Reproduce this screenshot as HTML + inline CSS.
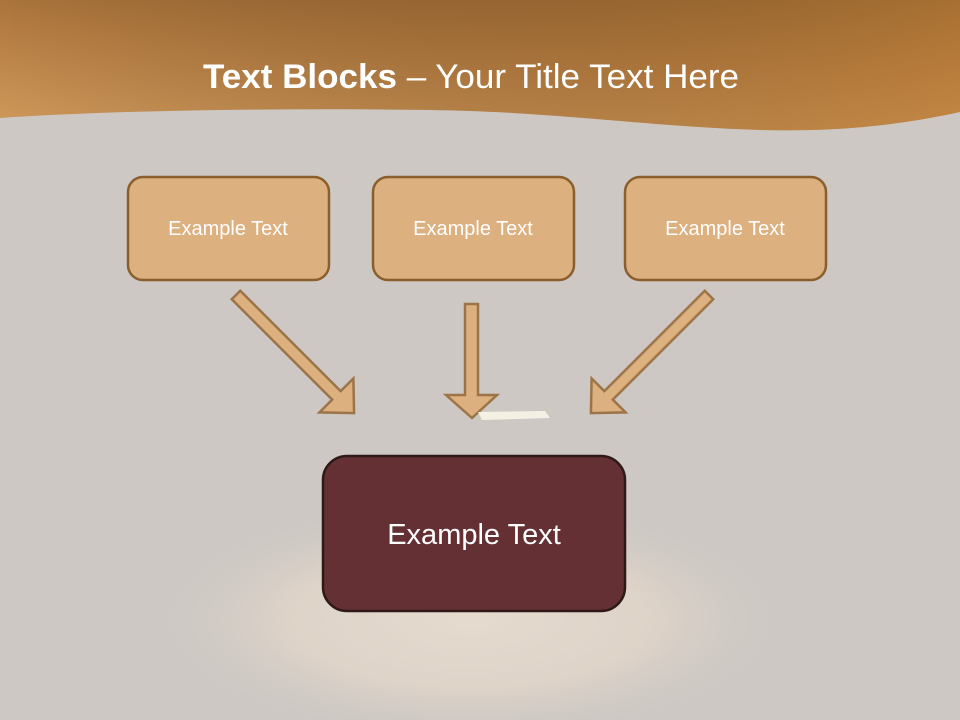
<!DOCTYPE html>
<html><head><meta charset="utf-8"><style>
html,body{margin:0;padding:0}
body{width:960px;height:720px;overflow:hidden;position:relative;background:#cdc8c4;font-family:"Liberation Sans",sans-serif}
</style></head><body>
<svg width="960" height="720" viewBox="0 0 960 720" style="position:absolute;left:0;top:0">
<defs>
<linearGradient id="hd" x1="0" y1="1" x2="0.6" y2="-0.4">
<stop offset="0" stop-color="#d19a5c"/>
<stop offset="0.5" stop-color="#b27a40"/>
<stop offset="1" stop-color="#8a5c2b"/>
</linearGradient>
<linearGradient id="hd2" x1="0" y1="0" x2="1" y2="0">
<stop offset="0" stop-color="#000" stop-opacity="0"/>
<stop offset="1" stop-color="#c98535" stop-opacity="0.35"/>
</linearGradient>
<radialGradient id="spot" cx="470" cy="620" r="330" gradientUnits="userSpaceOnUse" gradientTransform="translate(470 620) scale(1 0.38) translate(-470 -620)">
<stop offset="0" stop-color="#ebdfd1"/>
<stop offset="0.55" stop-color="#e2d6c9"/>
<stop offset="1" stop-color="#cdc8c4" stop-opacity="0"/>
</radialGradient>
</defs>
<rect width="960" height="720" fill="#cdc8c4"/>
<ellipse cx="470" cy="620" rx="340" ry="130" fill="url(#spot)" opacity="0.8"/>
<path d="M0 0 H960 V112 C900 125 840 132 760 130 C640 126 560 112 430 110 C280 108 120 110 0 118 Z" fill="url(#hd)"/>
<path d="M0 0 H960 V112 C900 125 840 132 760 130 C640 126 560 112 430 110 C280 108 120 110 0 118 Z" fill="url(#hd2)"/>
<text x="471" y="88" text-anchor="middle" fill="#fff" font-size="34" font-family="Liberation Sans, sans-serif" textLength="536" lengthAdjust="spacingAndGlyphs"><tspan font-weight="bold">Text Blocks</tspan> – Your Title Text Here</text>

<g fill="#dcb07f" stroke="#8b5e2e" stroke-width="2.5">
<rect x="128" y="177" width="201" height="103" rx="15"/>
<rect x="373" y="177" width="201" height="103" rx="15"/>
<rect x="625" y="177" width="201" height="103" rx="15"/>
</g>
<g fill="#fff" font-size="20" text-anchor="middle">
<text x="228" y="235">Example Text</text>
<text x="473" y="235">Example Text</text>
<text x="725" y="235">Example Text</text>
</g>

<g fill="#dcb07f" stroke="#9c7448" stroke-width="2.5" stroke-linejoin="miter">
<polygon transform="translate(236,295) rotate(45)" points="0,-6 142,-6 142,-24 167,0 142,24 142,6 0,6"/>
<polygon transform="translate(709,295) rotate(135)" points="0,-6 142,-6 142,-24 167,0 142,24 142,6 0,6"/>
<polygon points="465,304 478,304 478,395 497,395 472,418 446,395 465,395"/>
</g>
<path d="M478 412 L545 411 L550 418 L482 420 Z" fill="#f5f0e4"/>

<rect x="323" y="456" width="302" height="155" rx="24" fill="#653033" stroke="#2e1818" stroke-width="2.5"/>
<text x="474" y="544" text-anchor="middle" fill="#fff" font-size="29">Example Text</text>
</svg>
</body></html>
